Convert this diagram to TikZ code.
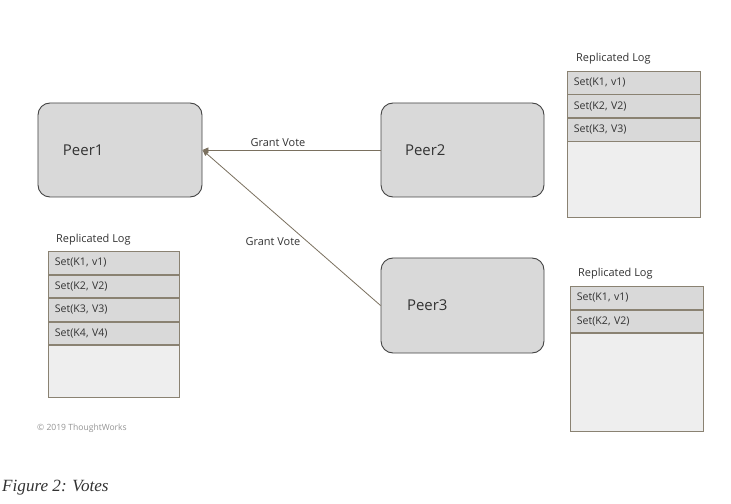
\documentclass[tikz,border=0pt]{standalone}
\usepackage{fontspec}
\setmainfont{Open Sans}
\newfontfamily\capfont{Liberation Serif}
\usetikzlibrary{arrows.meta}
\definecolor{boxfill}{HTML}{D9D9D9}
\definecolor{boxdraw}{HTML}{444444}
\definecolor{logdraw}{HTML}{8A8272}
\definecolor{logrow}{HTML}{D9D9D9}
\definecolor{logempty}{HTML}{EEEEEE}
\definecolor{arrowc}{HTML}{7A705F}
\definecolor{txt}{HTML}{333333}
\tikzset{
  peer/.style={draw=boxdraw, line width=0.9bp, fill=boxfill, rounded corners=12bp,
    minimum height=94bp, text width=114bp, inner xsep=25bp, inner ysep=0pt, align=left,
    font=\fontsize{15}{18}\selectfont, text=txt},
  logrowbox/.style={draw=logdraw, line width=0.8bp, fill=logrow, minimum width=#1, minimum height=22.7bp,
    inner xsep=6.5bp, inner ysep=0pt, text width=#1-13bp, align=left, anchor=north west,
    font=\fontsize{10.6}{12}\selectfont, text=txt},
  logemptybox/.style={draw=logdraw, line width=0.8bp, fill=logempty, anchor=north west, inner sep=0pt},
  logtitle/.style={anchor=west, inner sep=0pt, font=\fontsize{11}{13}\selectfont, text=txt},
  vote/.style={draw=arrowc, line width=0.8bp, -{Triangle[length=6bp,width=5bp]}},
  votelabel/.style={inner sep=0pt, font=\fontsize{11}{13}\selectfont, text=txt},
}
\begin{document}
\begin{tikzpicture}[x=1bp,y=-1bp]
\useasboundingbox (0,0) rectangle (731,504);
\fill[white] (0,0) rectangle (731,504);
% peers
\node[peer, minimum width=164bp] (p1) at (120,150) {Peer1};
\node[peer, minimum width=163bp, text width=115bp, inner xsep=24bp] (p2) at (462.5,150) {Peer2};
\node[peer, minimum width=163bp, text width=111bp, inner xsep=26bp, minimum height=95bp] (p3) at (462.5,305.5) {Peer3};
% arrows
\draw[vote] (p2.west) -- (p1.east);
\draw[vote] (p3.west) -- (p1.east);
\node[votelabel] (gv1) at (278,142.5) {Grant Vote};
\node[votelabel] (gv2) at (273,241.5) {Grant Vote};
% left log
\node[logtitle] (lt1) at (56,240) {Replicated Log};
\node[logrowbox=131bp] (a1) at (48,251) {Set(K1, v1)};
\node[logrowbox=131bp] (a2) at (a1.south west) {Set(K2, V2)};
\node[logrowbox=131bp] (a3) at (a2.south west) {Set(K3, V3)};
\node[logrowbox=131bp] (a4) at (a3.south west) {Set(K4, V4)};
\node[logemptybox, minimum width=131bp, minimum height=52bp] (a5) at (a4.south west) {};
% top right log
\node[logtitle] (lt2) at (576,59) {Replicated Log};
\node[logrowbox=133bp] (b1) at (567,71) {Set(K1, v1)};
\node[logrowbox=133bp] (b2) at (b1.south west) {Set(K2, V2)};
\node[logrowbox=133bp] (b3) at (b2.south west) {Set(K3, V3)};
\node[logemptybox, minimum width=133bp, minimum height=75bp] (b4) at (b3.south west) {};
% bottom right log
\node[logtitle] (lt3) at (578,274) {Replicated Log};
\node[logrowbox=133bp] (c1) at (570,286) {Set(K1, v1)};
\node[logrowbox=133bp] (c2) at (c1.south west) {Set(K2, V2)};
\node[logemptybox, minimum width=133bp, minimum height=97.6bp] (c3) at (c2.south west) {};
% footer
\node[anchor=west, inner sep=0pt, font=\fontsize{8.6}{10}\selectfont, text=black!42] (copy) at (37,428) {© 2019 ThoughtWorks};
\node[anchor=base west, inner sep=0pt, font=\capfont\itshape\fontsize{17.2}{20}\selectfont, text=txt] (cap) at (2,491) {Figure 2: Votes};
\end{tikzpicture}
\end{document}
